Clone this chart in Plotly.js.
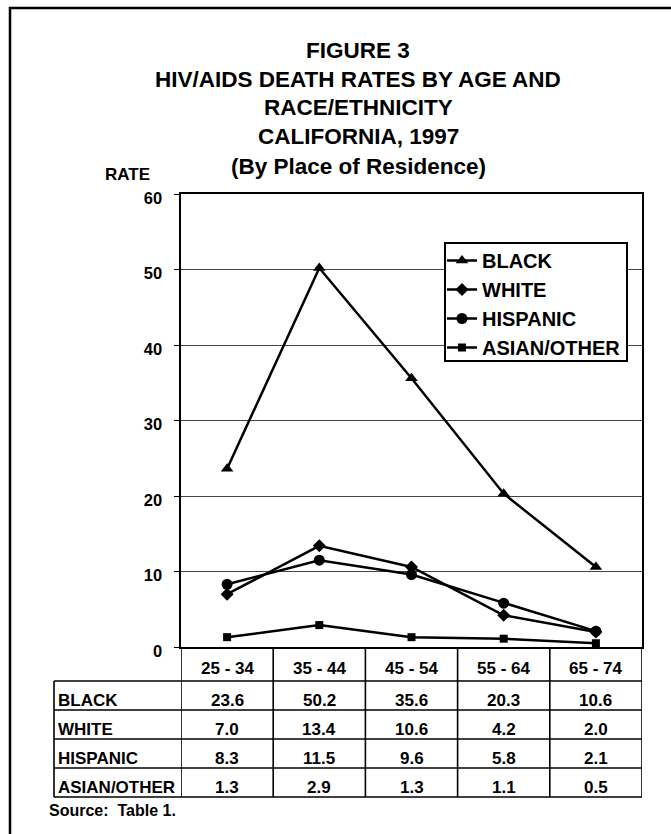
<!DOCTYPE html>
<html><head><meta charset="utf-8">
<script src="https://cdn.plot.ly/plotly-3.0.1.min.js"></script>
<style>html,body{margin:0;padding:0;background:#fff;} #chart{width:671px;height:834px;}</style>
</head><body><div id="chart"></div>
<script>
const categories = ['25 - 34', '35 - 44', '45 - 54', '55 - 64', '65 - 74'];
const black = [23.6, 50.2, 35.6, 20.3, 10.6];
const white = [7.0, 13.4, 10.6, 4.2, 2.0];
const hispanic = [8.3, 11.5, 9.6, 5.8, 2.1];
const asianOther = [1.3, 2.9, 1.3, 1.1, 0.5];
const seriesNames = ['BLACK', 'WHITE', 'HISPANIC', 'ASIAN/OTHER'];
const yTickVals = [0, 10, 20, 30, 40, 50, 60];
const titleLines = ['FIGURE 3', 'HIV/AIDS DEATH RATES BY AGE AND', 'RACE/ETHNICITY', 'CALIFORNIA, 1997', '(By Place of Residence)'];
const yAxisLabel = 'RATE';
const sourceNote = 'Source:  Table 1.';

const W = 671, H = 834;
const px = x => x / W;
const py = y => 1 - y / H;
const FONT = 'Liberation Sans, Arial, sans-serif';

const seriesData = [black, white, hispanic, asianOther];
const symbols = ['triangle-up', 'diamond', 'circle', 'square'];
const msize = [11, 10, 11, 8];

const traces = seriesData.map((vals, k) => ({
  type: 'scatter', mode: 'lines+markers',
  x: categories, y: vals, name: seriesNames[k],
  line: {color: '#000', width: 2.5},
  marker: {symbol: symbols[k], size: msize[k], color: '#000'}
}));

// layout geometry (pixels)
const plotL = 181, plotR = 642, plotT = 194, plotB = 647;
const tableL = 54;
const rowLines = [681, 710, 739, 768, 797];
const legBox = {l: 445, r: 627, t: 243, b: 361};

const shapes = [];
const lineStyle = {color: '#000', width: 1.6};
// outer frame (left + top)
shapes.push({type: 'line', xref: 'paper', yref: 'paper', x0: px(10), x1: px(10), y0: py(7), y1: py(840), line: {color: '#000', width: 2.5}});
shapes.push({type: 'line', xref: 'paper', yref: 'paper', x0: px(9), x1: px(680), y0: py(8), y1: py(8), line: {color: '#000', width: 2.5}});
// table horizontal lines
rowLines.forEach(y => shapes.push({type: 'line', xref: 'paper', yref: 'paper', x0: px(tableL), x1: px(plotR), y0: py(y), y1: py(y), line: lineStyle}));
// table left edge
shapes.push({type: 'line', xref: 'paper', yref: 'paper', x0: px(tableL), x1: px(tableL), y0: py(rowLines[0]), y1: py(rowLines[rowLines.length - 1]), line: lineStyle});
// column dividers
for (let i = 0; i <= categories.length; i++) {
  shapes.push({type: 'line', xref: 'x', yref: 'paper', x0: i - 0.5, x1: i - 0.5, y0: py(plotB), y1: py(rowLines[rowLines.length - 1]), line: lineStyle});
}
// legend frame
shapes.push({type: 'rect', xref: 'paper', yref: 'paper', layer: 'above', x0: px(legBox.l), x1: px(legBox.r), y0: py(legBox.b), y1: py(legBox.t),
  fillcolor: '#fff', line: {color: '#000', width: 2}});

const annotations = [];
const titleY = [51, 80, 108, 137, 166];
titleLines.forEach((t, i) => annotations.push({
  text: t, xref: 'paper', yref: 'paper', x: px(358), y: py(titleY[i]), xanchor: 'center', yanchor: 'middle',
  showarrow: false, font: {family: FONT, size: 22.5, weight: 'bold', color: '#000'}
}));
annotations.push({text: yAxisLabel, xref: 'paper', yref: 'paper', x: px(127), y: py(174), xanchor: 'center', yanchor: 'middle',
  showarrow: false, font: {family: FONT, size: 17, weight: 'bold', color: '#000'}});
annotations.push({text: sourceNote, xref: 'paper', yref: 'paper', x: px(47), y: py(810), xanchor: 'left', yanchor: 'middle',
  showarrow: false, font: {family: FONT, size: 16, weight: 'bold', color: '#000'}});
// header categories
categories.forEach((c, i) => annotations.push({
  text: c, xref: 'x', yref: 'paper', x: i, y: py(668), xanchor: 'center', yanchor: 'middle',
  showarrow: false, font: {family: FONT, size: 17, weight: 'bold', color: '#000'}
}));
// rows
seriesData.forEach((vals, k) => {
  const yc = (rowLines[k] + rowLines[k + 1]) / 2 + 5;
  annotations.push({text: seriesNames[k], xref: 'paper', yref: 'paper', x: px(tableL + 2), y: py(yc), xanchor: 'left', yanchor: 'middle',
    showarrow: false, font: {family: FONT, size: 17, weight: 'bold', color: '#000'}});
  vals.forEach((v, i) => annotations.push({
    text: v.toFixed(1), xref: 'x', yref: 'paper', x: i, y: py(yc), xanchor: 'center', yanchor: 'middle',
    showarrow: false, font: {family: FONT, size: 17, weight: 'bold', color: '#000'}
  }));
});

const layout = {
  width: W, height: H,
  margin: {l: 0, r: 0, t: 0, b: 0},
  paper_bgcolor: '#fff', plot_bgcolor: '#fff',
  font: {family: FONT, color: '#000'},
  showlegend: true,
  legend: {
    x: px(442), y: py(241), xanchor: 'left', yanchor: 'top',
    bgcolor: 'rgba(0,0,0,0)', borderwidth: 0,
    font: {family: FONT, size: 20, weight: 'bold', color: '#000'},
    tracegroupgap: 0, itemwidth: 30
  },
  xaxis: {
    domain: [px(plotL), px(plotR)], type: 'category', range: [-0.5, categories.length - 0.5],
    showticklabels: false, ticks: '', showgrid: false, zeroline: false,
    showline: true, mirror: true, linecolor: '#000', linewidth: 1.6, fixedrange: true
  },
  yaxis: {
    domain: [py(plotB), py(plotT)], range: [0, 60], tickvals: yTickVals,
    ticks: 'outside', ticklen: 5, tickcolor: '#000', tickwidth: 1,
    ticklabelstandoff: 9, ticklabelshift: 4,
    showgrid: true, gridcolor: '#444', gridwidth: 1, zeroline: false,
    showline: true, mirror: true, linecolor: '#000', linewidth: 1.6,
    tickfont: {family: FONT, size: 16.5, weight: 'bold', color: '#000'}, fixedrange: true
  },
  shapes: shapes,
  annotations: annotations
};

Plotly.newPlot('chart', traces, layout, {displayModeBar: false, staticPlot: true});
</script>
</body></html>
